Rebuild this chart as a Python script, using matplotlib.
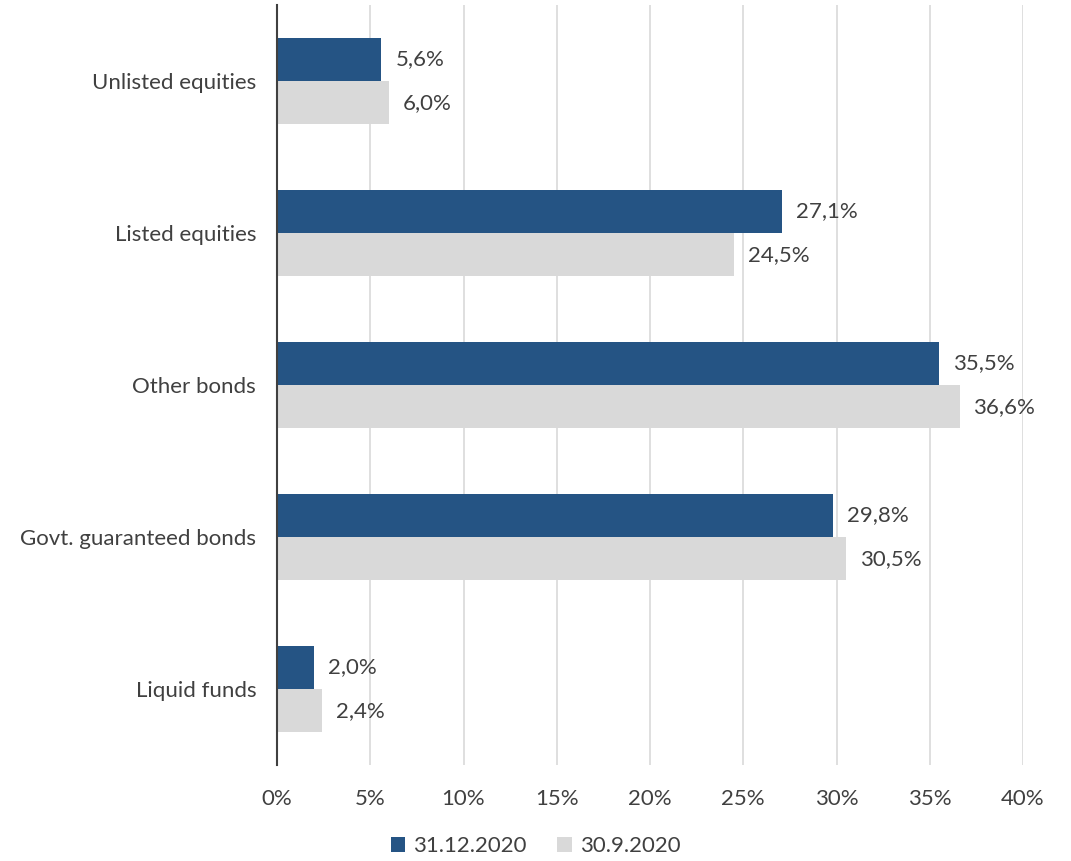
import matplotlib
matplotlib.use("Agg")
import matplotlib.pyplot as plt
import numpy as np

categories = ["Liquid funds", "Govt. guaranteed bonds", "Other bonds", "Listed equities", "Unlisted equities"]
series_names = ["31.12.2020", "30.9.2020"]
values_dec = [2.0, 29.8, 35.5, 27.1, 5.6]
values_sep = [2.4, 30.5, 36.6, 24.5, 6.0]
xticks = [0, 5, 10, 15, 20, 25, 30, 35, 40]

plt.rcParams['font.family'] = ['Lato', 'DejaVu Sans']
text_color = '#404040'
fs = 16

fig = plt.figure(figsize=(10.71, 8.61), dpi=100)
ax = fig.add_axes([277/1071, 96/861, 746/1071, 760/861])

y = np.arange(len(categories))
h = 0.285
c1 = '#255484'
c2 = '#D9D9D9'
b1 = ax.barh(y + h/2, values_dec, height=h, color=c1, label=series_names[0], zorder=3)
b2 = ax.barh(y - h/2, values_sep, height=h, color=c2, label=series_names[1], zorder=3)

for yy, v in zip(y + h/2, values_dec):
    ax.annotate(f"{v:.1f}%".replace('.', ','), (v, yy), xytext=(10, 0), textcoords='offset points',
                va='center', ha='left', fontsize=fs, color=text_color)
for yy, v in zip(y - h/2, values_sep):
    ax.annotate(f"{v:.1f}%".replace('.', ','), (v, yy), xytext=(10, 0), textcoords='offset points',
                va='center', ha='left', fontsize=fs, color=text_color)

ax.set_xlim(0, 40)
ax.set_ylim(-0.5, len(categories) - 0.5)
ax.set_xticks(xticks)
ax.set_xticklabels([f"{t}%" for t in xticks], fontsize=fs, color=text_color)
ax.set_yticks(y)
ax.set_yticklabels(categories, fontsize=fs, color=text_color)
ax.tick_params(axis='both', length=0)
ax.tick_params(axis='x', pad=17)
ax.tick_params(axis='y', pad=15)
ax.grid(axis='x', color='#D9D9D9', linewidth=1.2, zorder=0)
ax.set_axisbelow(True)
for s in ['top', 'right', 'bottom']:
    ax.spines[s].set_visible(False)
ax.spines['left'].set_color('#404040')
ax.spines['left'].set_linewidth(1.5)
ax.spines['left'].set_zorder(4)

leg = fig.legend(handles=[b1, b2], loc='lower center', bbox_to_anchor=(0.5, -0.018), ncol=2,
                 frameon=False, fontsize=fs, handlelength=0.65, handleheight=0.65,
                 handletextpad=0.35, columnspacing=1.4)
for t in leg.get_texts():
    t.set_color(text_color)

fig.savefig("out.png", dpi=100)
